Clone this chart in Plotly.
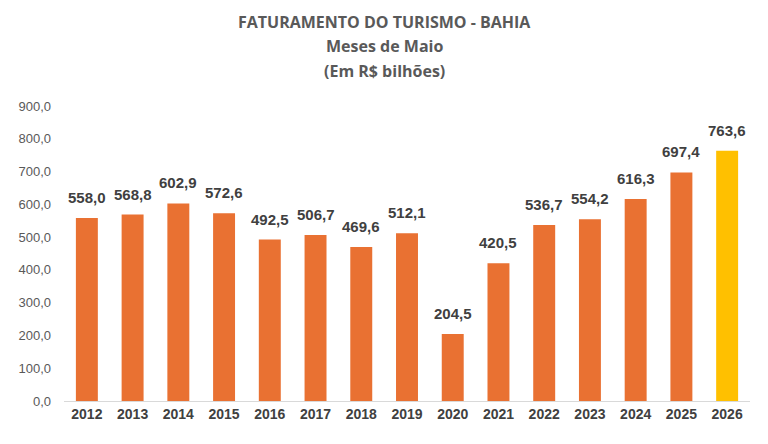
import plotly.graph_objects as go

years = ["2012", "2013", "2014", "2015", "2016", "2017", "2018", "2019",
         "2020", "2021", "2022", "2023", "2024", "2025", "2026"]
values = [558.0, 568.8, 602.9, 572.6, 492.5, 506.7, 469.6, 512.1,
          204.5, 420.5, 536.7, 554.2, 616.3, 697.4, 763.6]
colors = ["#E97132"] * 14 + ["#FFC000"]
title_lines = ["FATURAMENTO DO TURISMO - BAHIA", "Meses de Maio", "(Em R$ bilhões)"]

fig = go.Figure(go.Bar(
    x=years, y=values, marker_color=colors, marker_line_width=0,
))

# value labels: x given as category index on the category axis
for i, v in enumerate(values):
    fig.add_annotation(x=i, y=v, xref="x", yref="y",
                       text="<b>" + f"{v:.1f}".replace(".", ",") + "</b>",
                       showarrow=False, yanchor="bottom", yshift=10,
                       font=dict(family="Liberation Sans", size=15, color="#404040"))

fig.update_layout(
    width=768, height=444,
    margin=dict(l=64, r=18, t=106, b=43),
    paper_bgcolor="white", plot_bgcolor="white",
    separators=",.",
    bargap=0.52,
    showlegend=False,
    xaxis=dict(type="category", showline=True, linecolor="#D9D9D9", linewidth=1, ticks="",
               tickfont=dict(family="Liberation Sans", size=14, color="#404040", weight="bold")),
    yaxis=dict(range=[0, 900], dtick=100, tickformat=".1f", showgrid=False,
               zeroline=False, showline=False, ticks="", ticklabelstandoff=12,
               tickfont=dict(family="Liberation Sans", size=13, color="#595959")),
)

ys = [22, 46, 71]
for t, yp in zip(title_lines, ys):
    fig.add_annotation(text="<b>" + t + "</b>", xref="paper", yref="paper",
                       x=(384 - 64) / 686, xanchor="center",
                       y=(444 - 43 - yp) / (444 - 106 - 43), yanchor="middle",
                       showarrow=False,
                       font=dict(family="Open Sans", size=16, color="#595959"))

fig.write_html("out.html")
